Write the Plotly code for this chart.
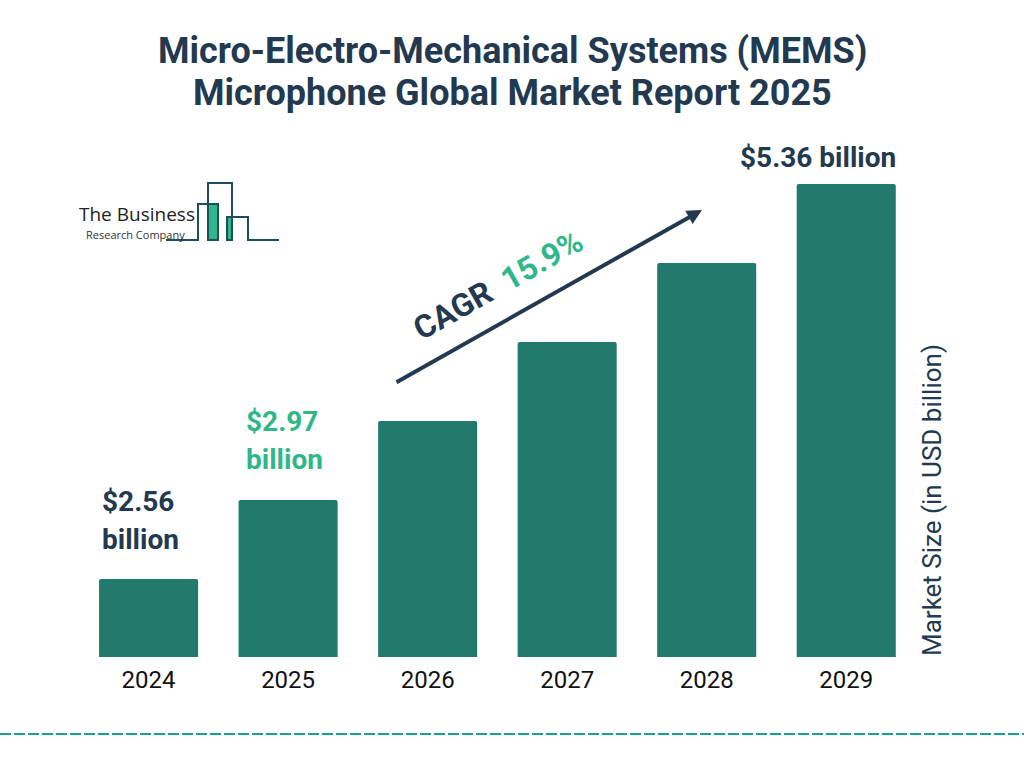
import plotly.graph_objects as go

W, H = 1024, 768
years = ["2024", "2025", "2026", "2027", "2028", "2029"]
# Bar heights as drawn in the picture (the original is illustrative, not to scale)
bar_heights = [78, 157, 236, 315, 394, 473]
value_labels = [["$2.56", "billion"], ["$2.97", "billion"], [], [], [], ["$5.36 billion"]]
title_lines = ["Micro-Electro-Mechanical Systems (MEMS)", "Microphone Global Market Report 2025"]
y_title = "Market Size (in USD billion)"

NAVY = "#22394f"
GREEN = "#2fb78a"
BAR = "#217a6b"
DASH = "#1f9e8f"
LOGO = "#1d4e5f"
FONT = "Roboto"
LINE_GAP = 38


def px(x):
    return x / W


def py(y):
    return 1 - y / H


fig = go.Figure(
    go.Bar(x=years, y=bar_heights, marker=dict(color=BAR, line=dict(width=0)), width=0.71, hoverinfo="skip")
)

annotations = []


def text(x, y, s, size, color=NAVY, anchor="center", angle=0, family=FONT):
    annotations.append(dict(
        x=px(x), y=py(y), xref="paper", yref="paper", text=s, showarrow=False,
        font=dict(family=family, size=size, color=color), xanchor=anchor, yanchor="middle",
        align="left" if anchor == "left" else "center", textangle=angle,
    ))


# Title
for line, y in zip(title_lines, (51, 93)):
    text(512, y, "<b>" + line + "</b>", 36)

# Value labels, left aligned above their bars
label_pos = [(100, 501, NAVY), (244, 421, GREEN), None, None, None, (738, 158, NAVY)]
for lines, pos in zip(value_labels, label_pos):
    if pos:
        for i, line in enumerate(lines):
            text(pos[0], pos[1] + i * LINE_GAP, "<b>" + line + "</b>", 28, pos[2], anchor="left")

# Y axis caption
text(932, 500, y_title, 26, NAVY, angle=-90)

# CAGR
text(498, 285, f"<b>CAGR  <span style='color:{GREEN}'>15.9%</span></b>", 32, NAVY, angle=-29.5)

# Arrow
annotations.append(dict(
    x=px(702), y=py(210), xref="paper", yref="paper", ax=395 - 702, ay=383 - 210, axref="pixel", ayref="pixel",
    text="", showarrow=True, arrowhead=2, arrowsize=0.75, arrowwidth=4, arrowcolor=NAVY,
))

# Logo text
text(77, 214, "The Business", 19, "#222222", anchor="left", family="Open Sans")
text(84, 234, "Research Company", 11, "#333333", anchor="left", family="Open Sans")

shapes = [
    dict(type="line", xref="paper", yref="paper", x0=0, x1=1, y0=py(734), y1=py(734),
         line=dict(color=DASH, width=2, dash="11px,3px")),
    dict(type="rect", xref="paper", yref="paper", x0=px(208), x1=px(218), y0=py(240), y1=py(204),
         fillcolor=GREEN, line=dict(width=0)),
    dict(type="rect", xref="paper", yref="paper", x0=px(227), x1=px(232), y0=py(240), y1=py(217),
         fillcolor=GREEN, line=dict(width=0)),
]
logo_paths = [
    [(166, 240), (198, 240), (198, 204), (218, 204), (218, 240), (208, 240), (208, 183), (232, 183), (232, 240), (227, 240), (227, 217), (248, 217), (248, 240), (279, 240)],
]
for p in logo_paths:
    d = "M " + " L ".join(f"{px(x):.5f},{py(y):.5f}" for x, y in p)
    shapes.append(dict(type="path", xref="paper", yref="paper", path=d, line=dict(color=LOGO, width=2)))

fig.update_layout(
    width=W, height=H, autosize=False,
    margin=dict(l=0, r=0, t=0, b=0),
    paper_bgcolor="white", plot_bgcolor="white",
    showlegend=False, barcornerradius=2,
    xaxis=dict(
        domain=[px(78.8), px(916)], type="category", range=[-0.5, 5.5],
        showgrid=False, showline=False, zeroline=False, ticks="",
        tickfont=dict(family=FONT, size=24, color="#111111"), ticklabelstandoff=6,
    ),
    yaxis=dict(domain=[py(657), py(184)], range=[0, 473], visible=False),
    annotations=annotations, shapes=shapes,
)

fig.write_html("out.html", config={"displayModeBar": False},
               post_script="document.body.style.margin='0';document.body.style.overflow='hidden';")
